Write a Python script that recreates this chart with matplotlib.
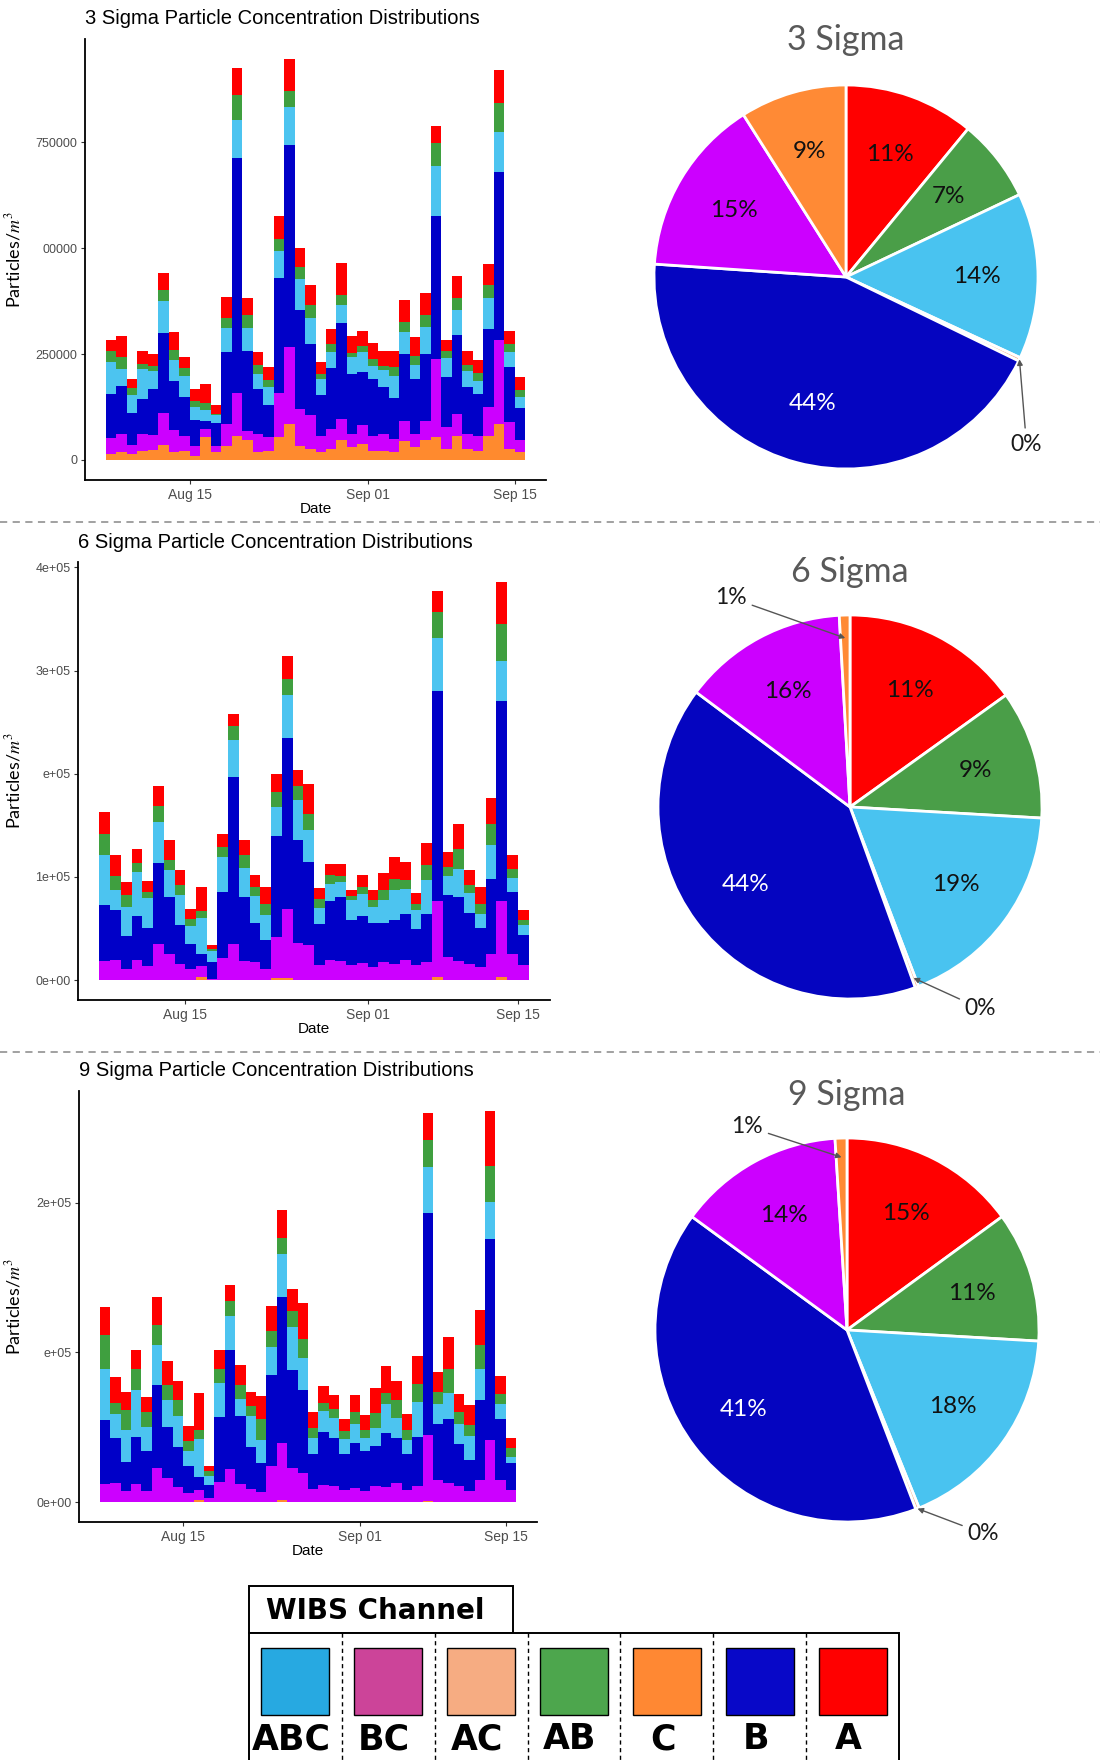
import numpy as np
import pandas as pd
import matplotlib.pyplot as plt
import matplotlib.dates as mdates
from matplotlib.patches import Rectangle
from matplotlib.ticker import FixedLocator

plt.rcParams['mathtext.fontset'] = 'stix'

W, H = 1100, 1760
DPI = 100

# daily bars, Aug 07 .. Sep 15 (values in thousands of particles/m^3)
dates = pd.date_range('2019-08-07', periods=40, freq='D')

# stack order, bottom to top
channels = ['C', 'AC', 'BC', 'B', 'ABC', 'AB', 'A']

# ---- 3 sigma ----
c3 = [13, 18, 13, 20, 24, 36, 18, 22, 10, 53, 18, 34, 57, 47, 18, 22, 53, 85, 34, 26,
      18, 26, 47, 30, 38, 22, 22, 18, 44, 31, 46, 53, 26, 57, 26, 22, 57, 85, 26, 18]
ac3 = [0] * 40
bc3 = [39, 43, 23, 41, 36, 75, 53, 35, 24, 20, 16, 51, 102, 22, 43, 31, 106, 181, 86, 81,
       39, 47, 50, 31, 45, 35, 39, 31, 47, 30, 46, 185, 51, 51, 35, 35, 67, 197, 64, 29]
b3 = [104, 114, 75, 84, 108, 189, 116, 92, 61, 18, 53, 169, 554, 189, 106, 76, 271, 478, 233, 167,
      96, 143, 226, 143, 124, 134, 110, 98, 159, 130, 159, 338, 118, 186, 112, 98, 186, 397, 130, 75]
abc3 = [76, 39, 42, 69, 43, 74, 49, 50, 31, 27, 18, 57, 90, 53, 37, 42, 63, 88, 73, 61,
        38, 38, 42, 39, 47, 31, 41, 51, 53, 33, 63, 118, 45, 61, 38, 31, 71, 96, 34, 26]
ab3 = [26, 29, 17, 12, 10, 28, 24, 18, 13, 16, 4, 24, 59, 30, 20, 17, 29, 39, 30, 31,
       13, 20, 24, 10, 16, 16, 10, 21, 22, 22, 28, 53, 18, 28, 14, 20, 32, 67, 20, 16]
a3 = [26, 50, 20, 30, 29, 39, 42, 27, 29, 46, 20, 49, 64, 41, 30, 32, 53, 75, 43, 47,
      28, 35, 75, 39, 35, 39, 35, 38, 53, 43, 53, 42, 26, 50, 33, 30, 49, 79, 30, 31]

# ---- 6 sigma ----
c6 = [0.5, 0.5, 0.5, 0.5, 0.5, 0.5, 0.5, 0.5, 0.5, 2.6, 0.3, 0.5, 0.5, 0.5, 0.5, 0.5, 1.9, 1.9, 0.5, 0.5,
      0.5, 0.5, 0.5, 0.5, 0.5, 0.5, 0.5, 0.5, 0.5, 0.5, 0.5, 2.6, 0.5, 0.5, 0.5, 0.5, 0.5, 3.2, 0.5, 0.5]
ac6 = [0] * 40
bc6 = [18.1, 18.7, 10.7, 19.4, 13.2, 34.9, 25.2, 15.5, 10.7, 11.3, 1.0, 21.3, 34.2, 18.1, 17.1, 10.7, 40.1, 66.9, 35.5, 33.9,
       13.9, 18.7, 18.1, 14.5, 16.2, 12.3, 17.1, 15.5, 18.7, 13.9, 17.1, 74.3, 22.0, 18.1, 15.5, 12.3, 25.2, 73.6, 24.5, 13.9]
b6 = [53.9, 48.5, 31.3, 42.0, 37.1, 78.5, 54.9, 37.1, 24.2, 11.3, 16.2, 63.6, 162.1, 62.0, 37.8, 28.1, 97.9, 165.7, 99.5, 80.1,
      40.4, 57.2, 62.0, 43.6, 45.2, 42.6, 37.8, 42.0, 45.2, 35.5, 46.8, 203.5, 59.8, 62.0, 49.1, 37.8, 72.7, 193.8, 60.4, 29.7]
abc6 = [49.1, 19.4, 28.4, 43.0, 28.7, 39.4, 25.8, 29.7, 16.8, 34.6, 10.3, 33.9, 36.2, 28.4, 25.8, 24.2, 27.5, 42.0, 38.8, 30.7,
        15.5, 17.1, 14.5, 18.7, 21.3, 15.5, 22.0, 29.1, 24.2, 17.8, 32.3, 51.0, 18.4, 27.5, 19.4, 13.9, 32.9, 38.8, 13.6, 9.0]
ab6 = [20.3, 13.6, 11.3, 9.0, 5.8, 15.2, 10.3, 9.0, 7.4, 7.4, 2.6, 9.7, 13.2, 12.0, 9.0, 10.7, 14.5, 15.2, 13.9, 16.2,
       8.7, 8.1, 5.5, 3.9, 7.1, 6.5, 9.7, 11.3, 8.1, 6.5, 14.5, 24.9, 9.0, 19.4, 7.4, 9.7, 19.7, 35.5, 9.0, 5.5]
a6 = [21.0, 20.3, 12.9, 13.6, 10.7, 19.7, 18.7, 14.5, 9.7, 22.6, 3.2, 12.9, 12.0, 14.5, 11.3, 16.2, 17.8, 22.6, 15.8, 28.4,
      10.7, 10.7, 12.3, 6.5, 11.3, 9.7, 16.8, 21.0, 17.8, 10.3, 21.6, 21.0, 14.5, 23.6, 14.5, 16.2, 25.8, 41.0, 12.9, 9.7]

# ---- 9 sigma ----
c9 = [0.2, 0.2, 0.2, 0.2, 0.2, 0.2, 0.2, 0.2, 0.2, 1.6, 0.2, 0.2, 0.2, 0.2, 0.2, 0.2, 0.2, 1.3, 0.2, 0.2,
      0.2, 0.2, 0.2, 0.2, 0.2, 0.2, 0.2, 0.2, 0.2, 0.2, 0.2, 1.1, 0.2, 0.2, 0.2, 0.2, 0.2, 0.4, 0.2, 0.2]
ac9 = [0] * 40
bc9 = [12.2, 12.7, 7.1, 12.2, 7.1, 22.7, 16.0, 10.0, 6.0, 6.7, 2.7, 13.4, 22.0, 12.2, 8.7, 6.5, 23.8, 38.0, 22.7, 19.4,
       8.7, 11.6, 10.5, 8.2, 9.3, 7.1, 10.5, 10.0, 12.7, 7.8, 10.5, 43.8, 14.9, 12.7, 10.5, 7.1, 14.9, 41.2, 14.9, 7.8]
b9 = [42.3, 30.0, 19.6, 30.9, 26.7, 55.6, 34.0, 26.7, 17.8, 8.5, 8.9, 43.4, 79.2, 44.9, 28.0, 19.6, 60.7, 97.5, 65.2, 55.6,
      23.4, 34.9, 32.3, 23.8, 30.0, 26.7, 26.7, 36.0, 30.0, 24.5, 32.9, 148.4, 37.4, 42.7, 28.3, 21.1, 53.0, 134.2, 40.5, 18.2]
abc9 = [34.3, 16.0, 21.6, 31.8, 16.0, 26.7, 18.2, 20.5, 10.0, 25.4, 6.0, 22.7, 23.1, 11.6, 20.5, 15.6, 18.7, 28.9, 28.9, 21.1,
        10.7, 14.0, 13.4, 10.0, 12.9, 8.9, 12.2, 19.4, 13.4, 9.3, 23.1, 30.7, 13.1, 17.4, 13.6, 15.6, 20.9, 24.3, 10.2, 4.0]
ab9 = [22.9, 7.3, 13.4, 13.8, 10.0, 13.4, 10.0, 11.1, 6.7, 6.2, 2.9, 9.3, 9.6, 9.6, 6.7, 13.8, 11.1, 10.5, 10.5, 12.7,
       6.7, 5.6, 5.6, 5.6, 8.2, 5.6, 10.0, 7.3, 12.2, 6.7, 12.2, 17.4, 8.0, 16.0, 7.6, 7.8, 16.2, 24.5, 6.7, 6.0]
a9 = [18.5, 17.4, 11.8, 12.5, 10.2, 18.5, 16.2, 12.2, 10.5, 24.5, 3.3, 12.5, 10.7, 13.1, 9.6, 15.1, 16.2, 18.9, 15.1, 24.0,
      10.7, 11.6, 9.3, 7.8, 10.7, 10.0, 16.7, 17.8, 12.2, 10.7, 18.5, 18.2, 13.1, 21.4, 11.8, 13.4, 22.9, 36.7, 11.6, 6.7]

# pies: clockwise from 12 o'clock
pie_order = ['A', 'AB', 'ABC', 'AC', 'B', 'BC', 'C']
pie3_sizes = [11, 7, 14, 0.3, 44, 15, 9]
pie3_labels = ['11%', '7%', '14%', '0%', '44%', '15%', '9%']
pie6_sizes = [15.2, 10.9, 18.4, 0.3, 41.0, 14.0, 0.9]
pie6_labels = ['11%', '9%', '19%', '0%', '44%', '16%', '1%']
pie9_sizes = [15, 11, 18, 0.3, 41, 14, 1]
pie9_labels = ['15%', '11%', '18%', '0%', '41%', '14%', '1%']

legend_names = ['ABC', 'BC', 'AC', 'AB', 'C', 'B', 'A']

bar_colors = {'A': '#FF0000', 'AB': '#3F9F3F', 'ABC': '#4CC4F0', 'B': '#0000C8',
              'BC': '#CC00FF', 'C': '#FF8A2E', 'AC': '#F7A97E'}
pie_colors = {'A': '#FF0000', 'AB': '#4A9E48', 'ABC': '#49C3F0', 'B': '#0505C0',
              'BC': '#CC00FF', 'C': '#FF8A35', 'AC': '#F7A97E'}
legend_colors = {'ABC': '#27A9E1', 'BC': '#CC4499', 'AC': '#F6AC82', 'AB': '#4DA64D',
                 'C': '#FF8833', 'B': '#0808C8', 'A': '#FF0000'}

fig = plt.figure(figsize=(W / DPI, H / DPI), dpi=DPI)
fig.patch.set_facecolor('white')


def px_box(left, top, right, bottom):
    return [left / W, 1 - bottom / H, (right - left) / W, (bottom - top) / H]


def bar_panel(box, title, series, yticks, yticklabels, ylabel_px):
    left, top, right, bottom = box
    ax = fig.add_axes(px_box(*box))
    x = mdates.date2num(dates.to_pydatetime())
    base = np.zeros(len(x))
    for ch in channels:
        vals = np.array(series[ch], dtype=float) * 1e3
        ax.bar(x, vals, width=1.0, align='edge', bottom=base, color=bar_colors[ch], linewidth=0)
        base += vals
    peak = base.max()
    ax.set_ylim(-0.05 * peak, 1.05 * peak)
    ax.set_xlim(x[0] - 2, x[-1] + 3)

    ticks = mdates.date2num(pd.to_datetime(['2019-08-15', '2019-09-01', '2019-09-15']).to_pydatetime())
    ax.xaxis.set_major_locator(FixedLocator(ticks))
    ax.xaxis.set_major_formatter(mdates.DateFormatter('%b %d'))
    ax.set_yticks(yticks)
    ax.set_yticklabels(yticklabels)

    for s in ['top', 'right']:
        ax.spines[s].set_visible(False)
    for s in ['left', 'bottom']:
        ax.spines[s].set_color('black')
        ax.spines[s].set_linewidth(1.3)
    ax.tick_params(length=3, width=0.8, color='#333333', labelcolor='#4D4D4D', pad=2.5)
    ax.tick_params(axis='x', labelsize=10)
    ax.tick_params(axis='y', labelsize=9)
    for lab in ax.get_xticklabels() + ax.get_yticklabels():
        lab.set_fontfamily('Liberation Sans')

    ax.set_xlabel('Date', fontsize=11, family='Liberation Sans')
    ax.xaxis.set_label_coords(0.5, -22 / (bottom - top))
    ax.set_ylabel('Particles/$m^3$', fontsize=13, family='Lato')
    ax.yaxis.set_label_coords((ylabel_px - left) / (right - left), 0.5)
    fig.text(left / W, 1 - (top - 20) / H, title, fontsize=14.5, family='Liberation Sans',
             ha='left', va='center', color='black')
    return ax


def pie_panel(cx, cy, r, title, title_y, sizes, labels, notes):
    s = 1.35
    ax = fig.add_axes(px_box(cx - s * r, cy - s * r, cx + s * r, cy + s * r))
    wedges, _ = ax.pie(sizes, colors=[pie_colors[k] for k in pie_order], startangle=90,
                       counterclock=False, radius=1,
                       wedgeprops=dict(edgecolor='white', linewidth=2))
    ax.set_xlim(-s, s)
    ax.set_ylim(-s, s)
    ax.set_aspect('equal')
    for i, w in enumerate(wedges):
        mid = np.deg2rad((w.theta1 + w.theta2) / 2)
        if i in notes:
            tx, ty, tip_r = notes[i]
            ax.annotate(labels[i], xy=(tip_r * np.cos(mid), tip_r * np.sin(mid)), xytext=(tx, ty),
                        ha='center', va='center', fontsize=16.5, family='Lato', color='#1a1a1a',
                        arrowprops=dict(arrowstyle='-|>', color='#555555', lw=1.0,
                                        mutation_scale=8, shrinkA=2, shrinkB=0))
        else:
            col = 'white' if pie_order[i] == 'B' else '#111111'
            ax.text(0.68 * np.cos(mid), 0.68 * np.sin(mid), labels[i], ha='center', va='center',
                    fontsize=17.5, family='Lato', color=col)
    fig.text(cx / W, 1 - title_y / H, title, fontsize=24.5, family='Lato', color='#595959',
             ha='center', va='center')
    return ax


bar_panel((85, 39, 546, 480), '3 Sigma Particle Concentration Distributions',
          {'C': c3, 'AC': ac3, 'BC': bc3, 'B': b3, 'ABC': abc3, 'AB': ab3, 'A': a3},
          [0, 250000, 500000, 750000], ['0', '250000', '00000', '750000'], 23)
bar_panel((78, 562, 550, 1000), '6 Sigma Particle Concentration Distributions',
          {'C': c6, 'AC': ac6, 'BC': bc6, 'B': b6, 'ABC': abc6, 'AB': ab6, 'A': a6},
          [0, 1e5, 2e5, 3e5, 4e5], ['0e+00', '1e+05', 'e+05', '3e+05', '4e+05'], 23)
bar_panel((79, 1091, 537, 1522), '9 Sigma Particle Concentration Distributions',
          {'C': c9, 'AC': ac9, 'BC': bc9, 'B': b9, 'ABC': abc9, 'AB': ab9, 'A': a9},
          [0, 1e5, 2e5], ['0e+00', 'e+05', '2e+05'], 23)

pie_panel(846, 277, 192, '3 Sigma', 40, pie3_sizes, pie3_labels,
          {3: (0.94, -0.87, 1.0)})
pie_panel(850, 807, 192, '6 Sigma', 572, pie6_sizes, pie6_labels,
          {3: (0.68, -1.05, 0.95), 6: (-0.62, 1.09, 0.88)})
pie_panel(847, 1330, 192, '9 Sigma', 1095, pie9_sizes, pie9_labels,
          {3: (0.71, -1.06, 1.0), 6: (-0.52, 1.06, 0.9)})

# overlay in pixel coordinates for separators and the channel key
ov = fig.add_axes([0, 0, 1, 1])
ov.set_xlim(0, W)
ov.set_ylim(H, 0)
ov.axis('off')
for y in [522, 1052]:
    ov.plot([0, W], [y, y], color='#9A9A9A', lw=1.3, ls=(0, (4, 3)))

ov.add_patch(Rectangle((249, 1586), 264, 47, facecolor='white', edgecolor='black', lw=1.4))
ov.text(266, 1611, 'WIBS Channel', fontsize=20, fontweight='bold', family='DejaVu Sans',
        ha='left', va='center')
ov.add_patch(Rectangle((249, 1633), 650, 140, facecolor='white', edgecolor='black', lw=1.4))
cell_w = 650 / len(legend_names)
for i, name in enumerate(legend_names):
    x0 = 249 + i * cell_w
    if i > 0:
        ov.plot([x0, x0], [1633, 1760], color='black', lw=1.0, ls=(0, (3, 2.5)))
    ov.add_patch(Rectangle((x0 + cell_w / 2 - 34, 1648), 68, 67,
                           facecolor=legend_colors[name], edgecolor='black', lw=1.0))
    ov.text(x0 + cell_w / 2 - 4, 1739, name, fontsize=25, fontweight='bold', family='DejaVu Sans',
            ha='center', va='center')

fig.savefig('out.png', dpi=DPI, facecolor='white')
